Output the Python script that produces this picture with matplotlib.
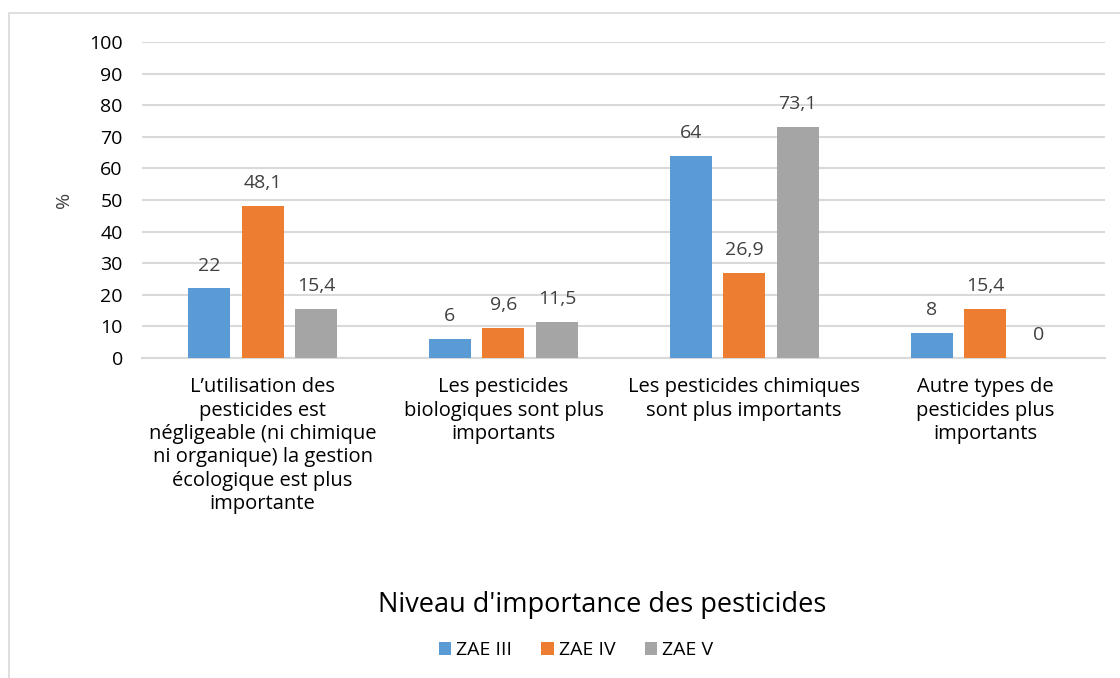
import numpy as np
import matplotlib.pyplot as plt
from matplotlib.patches import Rectangle

categories = [
    "L\u2019utilisation des\npesticides est\nnégligeable (ni chimique\nni organique) la gestion\nécologique est plus\nimportante",
    "Les pesticides\nbiologiques sont plus\nimportants",
    "Les pesticides chimiques\nsont plus importants",
    "Autre types de\npesticides plus\nimportants",
]
series_names = ["ZAE III", "ZAE IV", "ZAE V"]
zae3 = [22, 6, 64, 8]
zae4 = [48.1, 9.6, 26.9, 15.4]
zae5 = [15.4, 11.5, 73.1, 0]
colors = ["#5B9BD5", "#ED7D31", "#A5A5A5"]

plt.rcParams["font.family"] = ["Open Sans", "DejaVu Sans"]

fig = plt.figure(figsize=(11.2, 6.78), dpi=100)
ax = fig.add_axes([0.127, 0.472, 0.86, 0.466])

# chart border (partially cropped in the original)
fig.patches.append(Rectangle((9 / 1120, -0.1), 1.2, (678 - 13) / 678 + 0.1,
                             transform=fig.transFigure, fill=False,
                             edgecolor="#D9D9D9", linewidth=1.2))

x = np.arange(len(categories))
width = 0.174
step = 0.222
for i, (vals, name) in enumerate(zip([zae3, zae4, zae5], series_names)):
    pos = x + (i - 1) * step
    ax.bar(pos, vals, width, color=colors[i], label=name, zorder=3)
    for p, v in zip(pos, vals):
        txt = f"{v:g}".replace(".", ",")
        ax.annotate(txt, (p, v), xytext=(0, 10), textcoords="offset points",
                    ha="center", va="bottom", fontsize=14, color="#404040")

ax.set_xlim(-0.5, len(categories) - 0.5)
ax.set_ylim(0, 100)
ax.set_yticks(range(0, 101, 10))
ax.yaxis.grid(True, color="#D9D9D9", linewidth=1.5, zorder=0)
ax.set_axisbelow(True)
for s in ["top", "right", "left"]:
    ax.spines[s].set_visible(False)
ax.spines["bottom"].set_color("#D9D9D9")
ax.spines["bottom"].set_linewidth(1.5)
ax.tick_params(axis="y", length=0, labelsize=14, pad=14, labelcolor="#000000")
ax.tick_params(axis="x", length=0, labelsize=14.5, pad=14, labelcolor="#000000")
ax.set_xticks(x)
ax.set_xticklabels(categories, linespacing=1.22)

ax.set_ylabel("%", fontsize=14, color="#404040", labelpad=12)
fig.text(602 / 1120, 1 - 605 / 678, "Niveau d'importance des pesticides",
         ha="center", va="center", fontsize=19.5, color="#000000")

ax.legend(loc="center", bbox_to_anchor=(576 / 1120, 1 - 650 / 678), bbox_transform=fig.transFigure,
          ncol=3, frameon=False, fontsize=14, handlelength=0.65, handleheight=0.65,
          columnspacing=1.5, handletextpad=0.25)

fig.savefig("out.png", dpi=100)
